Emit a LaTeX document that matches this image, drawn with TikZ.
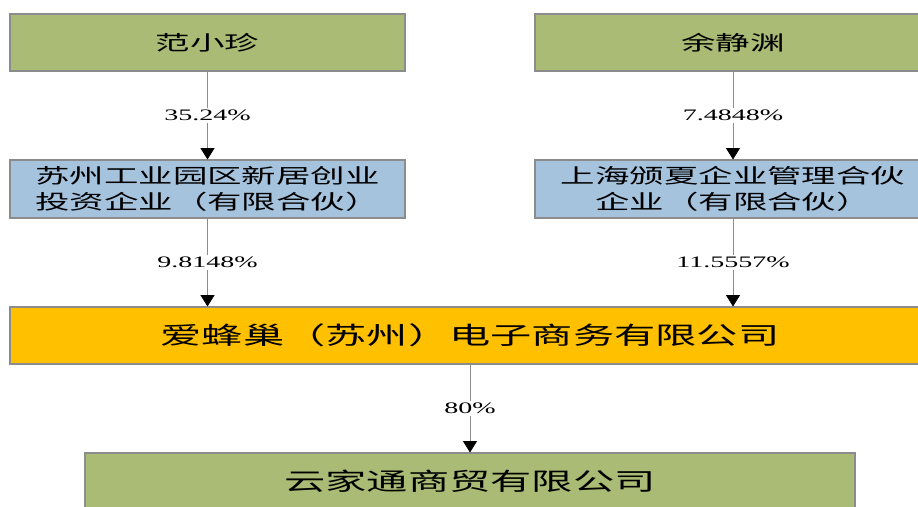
\documentclass[tikz,border=0pt]{standalone}
\usepackage{fontspec}
\setmainfont{Liberation Serif}[FakeStretch=1.75]
\newfontfamily\cjk{Noto Sans CJK SC}[FakeStretch=1.7]
\usetikzlibrary{arrows.meta}

\definecolor{boxgreen}{RGB}{169,187,116}
\definecolor{boxblue}{RGB}{166,195,222}
\definecolor{boxorange}{RGB}{255,192,0}
\definecolor{edgegray}{RGB}{140,140,140}

\tikzset{
  holder/.style={draw=edgegray, line width=0.8pt, minimum height=42.75pt, inner sep=0pt,
    align=center, font=\cjk\fontsize{15.2}{19.5}\selectfont},
  bigholder/.style={holder, font=\cjk\fontsize{18.2}{21}\selectfont},
  share/.style={draw=edgegray, line width=0.6pt, -{Triangle[black, width=10.5pt, length=8.5pt]}},
  pct/.style={fill=white, inner sep=1.5pt, font=\fontsize{12}{14}\selectfont},
}

\begin{document}
\begin{tikzpicture}[x=0.75pt, y=-0.75pt]
    \useasboundingbox (0,0) rectangle (918,507);

    % persons
    \node[holder, fill=boxgreen, minimum width=296.25pt] (fan) at (207.5,42.5) {范小珍};
    \node[holder, fill=boxgreen, minimum width=297pt] (yu) at (733,42.5) {余静渊};

    % partnerships
    \node[holder, fill=boxblue, minimum width=296.25pt, minimum height=43.5pt] (suzhou) at (207.5,189) {苏州工业园区新居创业\\投资企业（有限合伙）};
    \node[holder, fill=boxblue, minimum width=297pt, minimum height=43.5pt] (shanghai) at (733,189) {上海颁夏企业管理合伙\\企业（有限合伙）};

    % companies
    \node[bigholder, fill=boxorange, minimum width=690pt] (aifeng) at (470,335.5) {爱蜂巢（苏州）电子商务有限公司};
    \node[bigholder, fill=boxgreen, minimum width=577.5pt] (yunjia) at (470,481.5) {云家通商贸有限公司};

    % shares
    \draw[share] (fan) -- (suzhou) node[midway, pct] {35.24\%};
    \draw[share] (yu) -- (shanghai) node[midway, pct] {7.4848\%};
    \draw[share] (suzhou.south) -- (suzhou.south |- aifeng.north) node[midway, pct] {9.8148\%};
    \draw[share] (shanghai.south) -- (shanghai.south |- aifeng.north) node[midway, pct] {11.5557\%};
    \draw[share] (aifeng) -- (yunjia) node[midway, pct] {80\%};
\end{tikzpicture}
\end{document}
